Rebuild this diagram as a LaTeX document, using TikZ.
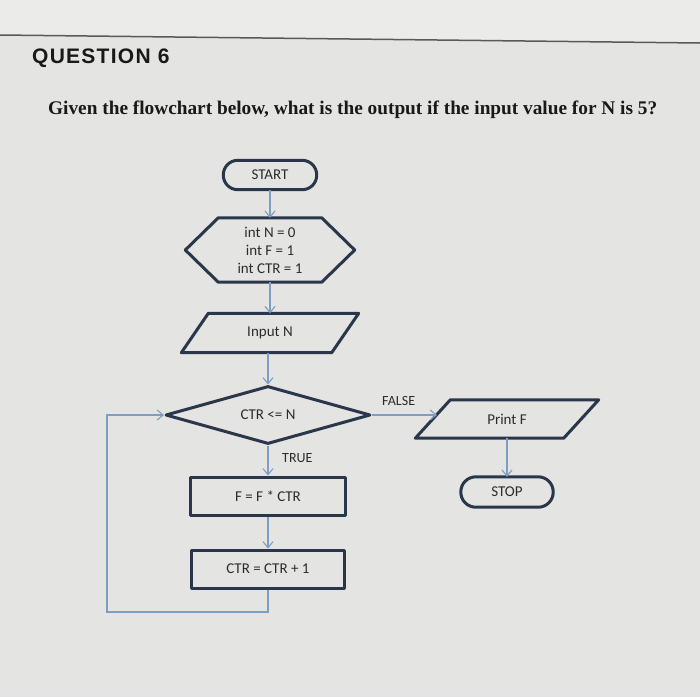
\documentclass[tikz,border=0pt]{standalone}
\usepackage{fontspec}
\setmainfont{Liberation Serif}
\newfontfamily\chartfont{Carlito}
\newfontfamily\titlefont[LetterSpace=6]{Liberation Sans}
\usetikzlibrary{arrows.meta,shapes.geometric}
\definecolor{bg}{HTML}{E4E4E2}
\definecolor{bgtop}{HTML}{EBEBE9}
\definecolor{outline}{HTML}{2A374A}
\definecolor{conn}{HTML}{7E9DC2}
\definecolor{txt}{HTML}{2C2C2C}
\tikzset{
  box/.style={draw=none, inner sep=0pt, font=\chartfont\fontsize{15}{18}\selectfont, text=txt, align=center},
  shapeline/.style={draw=outline, line width=3pt, line join=round},
  conline/.style={draw=conn, line width=1.3pt, -{Straight Barb[length=6pt,width=10pt,line width=1.1pt]}},
  lbl/.style={font=\chartfont\fontsize{14}{15}\selectfont, text=txt, inner sep=0pt},
}
\begin{document}
\begin{tikzpicture}[x=1pt,y=-1pt]
\useasboundingbox (0,0) rectangle (700,697);
\fill[bg] (0,0) rectangle (700,697);
\fill[bgtop] (0,0) -- (700,0) -- (700,43) -- (0,35) -- cycle;
\draw[line width=1.5pt, draw=gray!70!black] (0,35) -- (700,43);

\node[anchor=base west, inner sep=0pt, font=\titlefont\bfseries\fontsize{21}{24}\selectfont, text=black!90] (title) at (32,63) {QUESTION 6};
\node[anchor=base west, inner sep=0pt, font=\bfseries\fontsize{19.3}{24}\selectfont, text=black!90] (question) at (48,114) {Given the flowchart below, what is the output if the input value for N is 5?};

% START
\node[box, minimum width=93pt, minimum height=29pt] (start) at (270,175) {START};
\draw[shapeline, rounded corners=14.5pt] (start.south west) rectangle (start.north east);

% hexagon
\node[box, minimum width=169pt, minimum height=64pt] (init) at (270,250) {int N = 0\\int F = 1\\int CTR = 1};
\draw[shapeline] (init.west) -- ([xshift=33pt]init.north west) -- ([xshift=-33pt]init.north east) -- (init.east) -- ([xshift=-33pt]init.south east) -- ([xshift=33pt]init.south west) -- cycle;

% input
\node[box, minimum width=177pt, minimum height=39pt] (input) at (270,333) {Input N};
\draw[shapeline] ([xshift=27pt]input.north west) -- (input.north east) -- ([xshift=-27pt]input.south east) -- (input.south west) -- cycle;

% decision
\node[box, shape=diamond, shapeline, aspect=3.5, minimum width=205pt, minimum height=58pt] (dec) at (268,415) {CTR <= N};

% process boxes
\node[box, shapeline, minimum width=155pt, minimum height=38pt] (mult) at (268,496) {F = F * CTR};
\node[box, shapeline, minimum width=153pt, minimum height=38pt] (incr) at (268,569) {CTR = CTR + 1};

% print F
\node[box, minimum width=183pt, minimum height=38pt] (print) at (507,419) {Print F};
\draw[shapeline] ([xshift=35pt]print.north west) -- (print.north east) -- ([xshift=-35pt]print.south east) -- (print.south west) -- cycle;
\coordinate (printin) at (437,415);

% STOP
\node[box, minimum width=92pt, minimum height=30pt] (stop) at (507,492) {STOP};
\draw[shapeline, rounded corners=15pt] (stop.south west) rectangle (stop.north east);

% connectors
\draw[conline] (start.south) -- (start.south |- init.north);
\draw[conline] (init.south) -- (init.south |- input.north);
\draw[conline] (input.south -| dec.north) -- (dec.north);
\draw[conline] (dec.south) -- (mult.north);
\draw[conline] (mult.south) -- (incr.north);
\coordinate (loopa) at (268,612);
\coordinate (loopb) at (107,612);
\draw[conline] (incr.south) -- (loopa) -- (loopb) |- (dec.west);
\draw[conline] (dec.east) -- (printin);
\draw[conline] (print.south) -- (stop.north);

\node[lbl, anchor=west] (truelbl) at (282,458) {TRUE};
\node[lbl, anchor=west] (falselbl) at (382,401) {FALSE};
\end{tikzpicture}
\end{document}
